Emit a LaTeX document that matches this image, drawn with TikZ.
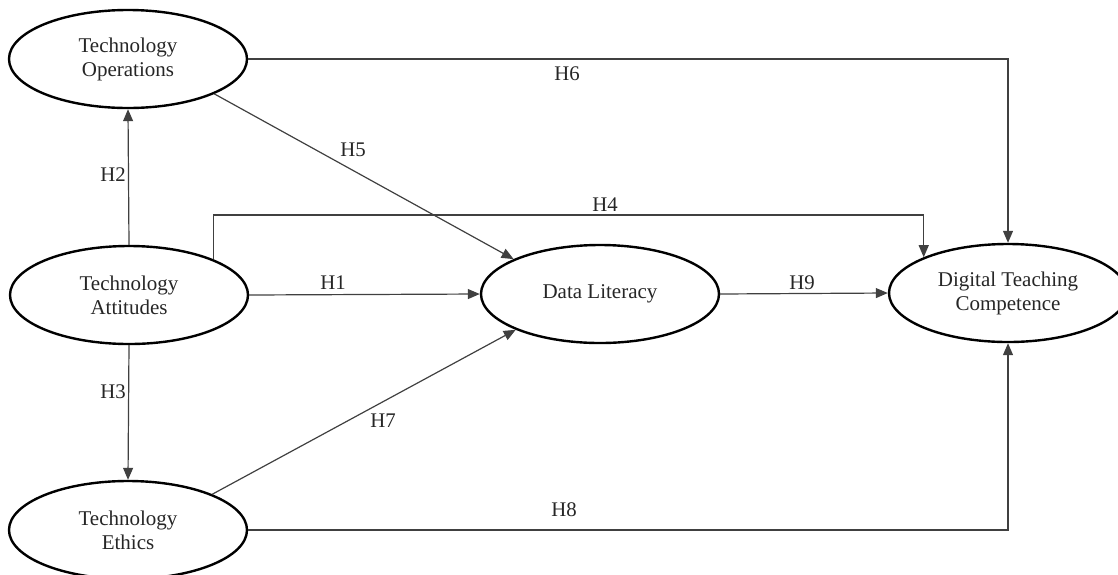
\documentclass[tikz,border=0pt]{standalone}
\usepackage{fontspec}
\setmainfont{Liberation Serif}
\usetikzlibrary{shapes.geometric,arrows.meta}
\begin{document}
\begin{tikzpicture}[x=0.5pt,y=-0.5pt,
  construct/.style={ellipse,draw=black,line width=1.2pt,minimum width=119pt,minimum height=49pt,inner sep=0pt,align=center,font=\fontsize{10.5}{12}\selectfont,text=black!85},
  arr/.style={draw=black!75,line width=0.6pt,-{Triangle[length=6pt,width=5pt]}},
  lbl/.style={font=\fontsize{10.4}{12}\selectfont,text=black!85,inner sep=0pt}]
\useasboundingbox (0,0) rectangle (1118,574);
\node[construct] (TO) at (128,59) {Technology\\Operations};
\node[construct] (TA) at (129,295) {Technology\\Attitudes};
\node[construct] (TE) at (128,530) {Technology\\Ethics};
\node[construct] (DL) at (600,294) {Data Literacy};
\node[construct] (DTC) at (1008,293) {Digital Teaching\\Competence};
\coordinate (h4y) at (0,215);
% connectors
\draw[arr] (TA.north) -- (TO.south);
\draw[arr] (TA.south) -- (TE.north);
\draw[arr] (TA.east) -- (DL.west);
\draw[arr] (DL.east) -- (DTC.west);
\draw[arr] (TO.-22) -- (DL.158);
\draw[arr] (TE.23) -- (DL.-157);
\draw[arr] (TO.east) -| (DTC.north);
\draw[arr] (TE.east) -| (DTC.south);
\draw[arr] (TA.23) |- (h4y -| DTC.157) -- (DTC.157);
% labels
\node[lbl] (l1) at (333,283) {H1};
\node[lbl] (l2) at (113,175) {H2};
\node[lbl] (l3) at (113,392) {H3};
\node[lbl] (l4) at (605,205) {H4};
\node[lbl] (l5) at (353,150) {H5};
\node[lbl] (l6) at (567,74) {H6};
\node[lbl] (l7) at (383,421) {H7};
\node[lbl] (l8) at (564,510) {H8};
\node[lbl] (l9) at (802,283) {H9};
\end{tikzpicture}
\end{document}
